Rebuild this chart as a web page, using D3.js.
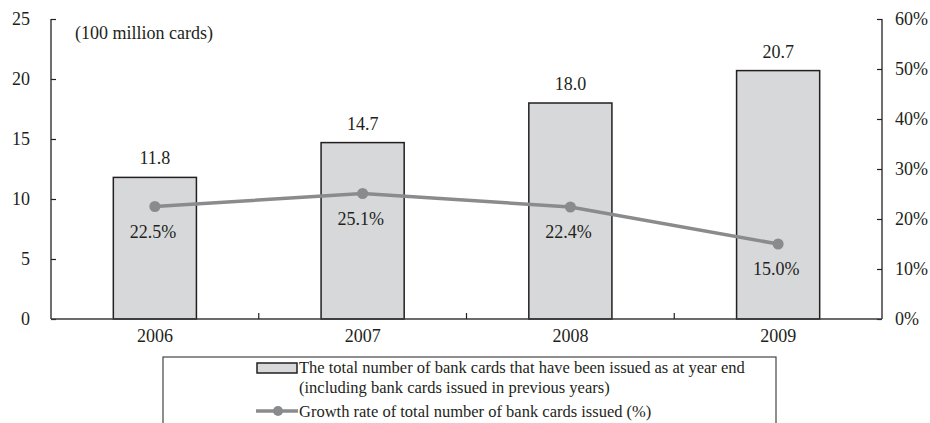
<!DOCTYPE html>
<html>
<head>
<meta charset="utf-8">
<script src="https://cdn.jsdelivr.net/npm/d3@7"></script>
<style>
  html, body { margin: 0; padding: 0; background: #fff; }
  svg { display: block; }
  text { font-family: "Liberation Serif", "Times New Roman", serif; fill: #231f20; }
</style>
</head>
<body>
<svg id="chart" width="930" height="423"></svg>
<script>
// Bank cards issued, 2006-2009
const years = ["2006", "2007", "2008", "2009"];
const cardTotals = [11.8, 14.7, 18.0, 20.7];          // 100 million cards
const growthRates = [22.5, 25.1, 22.4, 15.0];         // percent
const leftTicks = [0, 5, 10, 15, 20, 25];
const rightTicks = [0, 10, 20, 30, 40, 50, 60];
const unitLabel = "(100 million cards)";
const legendBarLines = [
  "The total number of bank cards that have been issued as at year end",
  "(including bank cards issued in previous years)"
];
const legendLineLabel = "Growth rate of total number of bank cards issued (%)";

const svg = d3.select("#chart");
const inkColor = "#231f20";
const barFill = "#d7d8da";
const lineColor = "#8a8b8d";
const labelSize = 18;
const legendSize = 16.5;

const plot = { left: 51, right: 882, top: 19, bottom: 319 };

const x = d3.scaleBand()
  .domain(years)
  .range([plot.left, plot.right])
  .paddingInner(0.6)
  .paddingOuter(0.3);

const yLeft = d3.scaleLinear().domain([0, 25]).range([plot.bottom, plot.top]);
const yRight = d3.scaleLinear().domain([0, 60]).range([plot.bottom, plot.top]);

const data = years.map((y, i) => ({ year: y, total: cardTotals[i], growth: growthRates[i] }));
const cx = d => x(d) + x.bandwidth() / 2;

// Bars
svg.append("g").selectAll("rect")
  .data(data)
  .join("rect")
  .attr("x", d => x(d.year))
  .attr("y", d => yLeft(d.total))
  .attr("width", x.bandwidth())
  .attr("height", d => yLeft(0) - yLeft(d.total))
  .attr("fill", barFill)
  .attr("stroke", inkColor)
  .attr("stroke-width", 1.5);

// Bar value labels
svg.append("g").selectAll("text")
  .data(data)
  .join("text")
  .attr("x", d => cx(d.year))
  .attr("y", d => yLeft(d.total) - 13)
  .attr("text-anchor", "middle")
  .attr("font-size", labelSize)
  .text(d => d.total.toFixed(1));

// Left axis
const leftAxis = d3.axisLeft(yLeft).tickValues(leftTicks).tickSize(-5).tickPadding(21);
const gl = svg.append("g").attr("transform", `translate(${plot.left},0)`).call(leftAxis);
gl.select(".domain").attr("d", `M0,${plot.top}V${plot.bottom}`);

// Right axis
const rightAxis = d3.axisRight(yRight).tickValues(rightTicks).tickSize(-5).tickPadding(13)
  .tickFormat(d => d + "%");
const gr = svg.append("g").attr("transform", `translate(${plot.right},0)`).call(rightAxis);
gr.select(".domain").attr("d", `M0,${plot.top}V${plot.bottom}`);

[gl, gr].forEach(g => {
  g.select(".domain").attr("stroke", inkColor).attr("stroke-width", 1.3);
  g.selectAll(".tick line").attr("stroke", inkColor).attr("stroke-width", 1.2);
  g.selectAll(".tick text")
    .attr("font-family", "Liberation Serif, Times New Roman, serif")
    .attr("font-size", labelSize)
    .attr("fill", inkColor);
});

// Bottom axis with ticks between categories
const xAxis = d3.axisBottom(x).tickSize(0).tickPadding(10);
const gx = svg.append("g").attr("transform", `translate(0,${plot.bottom})`).call(xAxis);
gx.select(".domain").attr("d", `M${plot.left},0H${plot.right}`)
  .attr("stroke", "#3a3a3a").attr("stroke-width", 1.6);
gx.selectAll(".tick text")
  .attr("font-family", "Liberation Serif, Times New Roman, serif")
  .attr("font-size", labelSize)
  .attr("fill", inkColor);
const dividers = years.slice(0, -1).map(y => x(y) + x.bandwidth() + x.step() * x.paddingInner() / 2);
gx.selectAll("line.divider")
  .data(dividers)
  .join("line")
  .attr("class", "divider")
  .attr("x1", d => d).attr("x2", d => d)
  .attr("y1", 0).attr("y2", -6)
  .attr("stroke", inkColor).attr("stroke-width", 1.2);

// Growth line
const line = d3.line().x(d => cx(d.year)).y(d => yRight(d.growth));
svg.append("path")
  .datum(data)
  .attr("d", line)
  .attr("fill", "none")
  .attr("stroke", lineColor)
  .attr("stroke-width", 3.5);

svg.append("g").selectAll("circle")
  .data(data)
  .join("circle")
  .attr("cx", d => cx(d.year))
  .attr("cy", d => yRight(d.growth))
  .attr("r", 5.5)
  .attr("fill", lineColor);

svg.append("g").selectAll("text")
  .data(data)
  .join("text")
  .attr("x", d => cx(d.year) - 2)
  .attr("y", d => yRight(d.growth) + 31)
  .attr("text-anchor", "middle")
  .attr("font-size", labelSize)
  .text(d => d.growth.toFixed(1) + "%");

// Unit label
svg.append("text")
  .attr("x", 75)
  .attr("y", 39)
  .attr("font-size", labelSize)
  .text(unitLabel);

// Legend
const legend = svg.append("g");
legend.append("rect")
  .attr("x", 163).attr("y", 357)
  .attr("width", 613).attr("height", 90)
  .attr("fill", "none")
  .attr("stroke", "#444").attr("stroke-width", 1.2);

legend.append("rect")
  .attr("x", 257).attr("y", 363)
  .attr("width", 40).attr("height", 10)
  .attr("fill", barFill)
  .attr("stroke", inkColor).attr("stroke-width", 1.5);

legend.selectAll("text.bar")
  .data(legendBarLines)
  .join("text")
  .attr("class", "bar")
  .attr("x", 299)
  .attr("y", (d, i) => 373 + i * 20)
  .attr("font-size", legendSize)
  .text(d => d);

legend.append("line")
  .attr("x1", 256).attr("x2", 298)
  .attr("y1", 411).attr("y2", 411)
  .attr("stroke", lineColor).attr("stroke-width", 3.5);
legend.append("circle")
  .attr("cx", 278).attr("cy", 411).attr("r", 5)
  .attr("fill", lineColor);
legend.append("text")
  .attr("x", 299).attr("y", 417)
  .attr("font-size", legendSize)
  .text(legendLineLabel);
</script>
</body>
</html>
